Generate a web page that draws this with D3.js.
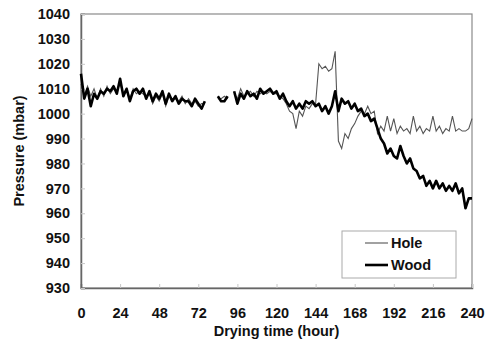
<!DOCTYPE html>
<html>
<head>
<meta charset="utf-8">
<script src="https://cdn.jsdelivr.net/npm/d3@7"></script>
<style>
  body { margin: 0; background: #fff; }
  text { font-family: "Liberation Sans", Arial, sans-serif; font-weight: bold; }
</style>
</head>
<body>
<div id="chart-area"></div>
<script>
//============================DATA============================
// hours, sampled every 2 h (null = logging gap)
var hours = d3.range(0, 241, 2);

var hole = [
  1012, 1007, 1011, 1007, 1010, 1006, 1010, 1007, 1011, 1008,
  1010, 1009, 1012, 1008, 1010, 1006, 1010, 1008, 1009, 1008,
  1007, 1008, 1004, 1007, 1005, 1008, 1003, 1007, 1006, 1006,
  1005, 1007, 1004, 1006, 1004, 1005, 1003, 1004, 1004, null,
  null, null, 1006, 1006, 1007, 1006, null, 1008, 1006, 1010,
  1007, 1008, 1009, 1007, 1009, 1008, 1009, 1008, 1009, 1008,
  1008, 1007, 1006, 1004, 1001, 1000, 994, 1001, 999, 1003,
  1002, 1004, 1004, 1020, 1018, 1019, 1017, 1018, 1025, 989,
  986, 992, 990, 994, 996, 999, 1001, 1000, 1003, 1000,
  1001, 992, 995, 993, 999, 993, 998, 992, 995, 993,
  994, 992, 999, 993, 995, 992, 994, 993, 999, 993,
  995, 992, 994, 993, 999, 993, 994, 993, 993, 994,
  998
];

var wood = [
  1016, 1006, 1010, 1003, 1008, 1006, 1009, 1008, 1010, 1009,
  1011, 1008, 1014, 1007, 1010, 1005, 1009, 1010, 1008, 1010,
  1006, 1009, 1005, 1008, 1006, 1009, 1004, 1008, 1005, 1007,
  1004, 1006, 1005, 1005, 1003, 1006, 1004, 1002, 1005, null,
  null, null, 1007, 1005, 1005, 1007, null, 1009, 1004, 1008,
  1006, 1009, 1007, 1008, 1006, 1010, 1008, 1009, 1010, 1008,
  1009, 1006, 1008, 1005, 1003, 1005, 1002, 1004, 1002, 1005,
  1004, 1005, 1003, 1004, 1001, 1003, 1000, 1003, 1009, 1001,
  1006, 1004, 1005, 1002, 1004, 1001, 1002, 999, 1000, 997,
  998, 994, 990, 988, 984, 986, 983, 982, 987, 983,
  980, 982, 978, 977, 974, 975, 971, 973, 970, 973,
  970, 972, 969, 971, 969, 972, 968, 970, 962, 966,
  966
];

var xTicks = d3.range(0, 241, 24);
var yTicks = d3.range(930, 1041, 10);
var seriesNames = ["Hole", "Wood"];

//============================CHART============================
var margins = { left: 81, right: 16, top: 14, bottom: 53 };
var width = 488 - margins.left - margins.right;
var height = 341 - margins.top - margins.bottom;

var svg = d3.select("#chart-area")
    .append("svg")
    .attr("width", 488)
    .attr("height", 341);

var g = svg.append("g")
    .attr("transform", "translate(" + margins.left + ", " + margins.top + ")");

var x = d3.scaleLinear().domain([0, 240]).range([0, width]);
var y = d3.scaleLinear().domain([930, 1040]).range([height, 0]);

// frame
g.append("rect")
    .attr("width", width)
    .attr("height", height)
    .attr("fill", "none")
    .attr("stroke", "#8a8a8a")
    .attr("stroke-width", 1.2);

// x axis (ticks point inward)
var xAxis = g.append("g")
    .attr("transform", "translate(0," + height + ")")
    .call(d3.axisBottom(x).tickValues(xTicks).tickSize(-4).tickPadding(20));
xAxis.select(".domain").attr("stroke", "#666").attr("stroke-width", 1.5);
xAxis.selectAll("line").attr("stroke", "#c8c8c8");
xAxis.selectAll("text")
    .attr("font-size", "14.5px")
    .attr("font-family", "Liberation Sans, Arial, sans-serif")
    .attr("fill", "#111");

// y axis
var yAxis = g.append("g")
    .call(d3.axisLeft(y).tickValues(yTicks).tickFormat(d3.format("d")).tickSize(-4).tickPadding(11));
yAxis.select(".domain").attr("stroke", "#666").attr("stroke-width", 1.5);
yAxis.selectAll("line").attr("stroke", "#c8c8c8");
yAxis.selectAll("text")
    .attr("font-size", "14.5px")
    .attr("font-family", "Liberation Sans, Arial, sans-serif")
    .attr("fill", "#111");

// axis titles
g.append("text")
    .attr("x", width / 2)
    .attr("y", height + 48)
    .attr("text-anchor", "middle")
    .attr("font-size", "14.5px")
    .attr("fill", "#111")
    .text("Drying time (hour)");

g.append("text")
    .attr("transform", "rotate(-90)")
    .attr("x", -height / 2)
    .attr("y", -57)
    .attr("text-anchor", "middle")
    .attr("font-size", "14.5px")
    .attr("fill", "#111")
    .text("Pressure (mbar)");

// lines
var line = d3.line()
    .defined(function(d){ return d.v !== null; })
    .x(function(d){ return x(d.t); })
    .y(function(d){ return y(d.v); });

function pairs(vals){
    return hours.map(function(t, i){ return { t: t, v: vals[i] }; });
}

g.append("path")
    .datum(pairs(hole))
    .attr("fill", "none")
    .attr("stroke", "#555")
    .attr("stroke-width", 1.1)
    .attr("d", line);

g.append("path")
    .datum(pairs(wood))
    .attr("fill", "none")
    .attr("stroke", "#000")
    .attr("stroke-width", 2.6)
    .attr("stroke-linejoin", "round")
    .attr("d", line);

// legend
var lg = g.append("g").attr("transform", "translate(" + (342 - margins.left) + "," + (231 - margins.top) + ")");
lg.append("rect")
    .attr("width", 114)
    .attr("height", 47)
    .attr("fill", "#fff")
    .attr("stroke", "#aaa");
var styles = [{ c: "#555", w: 1.1 }, { c: "#000", w: 2.6 }];
seriesNames.forEach(function(name, i){
    var yy = 12 + i * 22;
    lg.append("line")
        .attr("x1", 23).attr("x2", 46)
        .attr("y1", yy).attr("y2", yy)
        .attr("stroke", styles[i].c)
        .attr("stroke-width", styles[i].w);
    lg.append("text")
        .attr("x", 49)
        .attr("y", yy + 5)
        .attr("font-size", "14.5px")
        .attr("fill", "#111")
        .text(name);
});
</script>
</body>
</html>
